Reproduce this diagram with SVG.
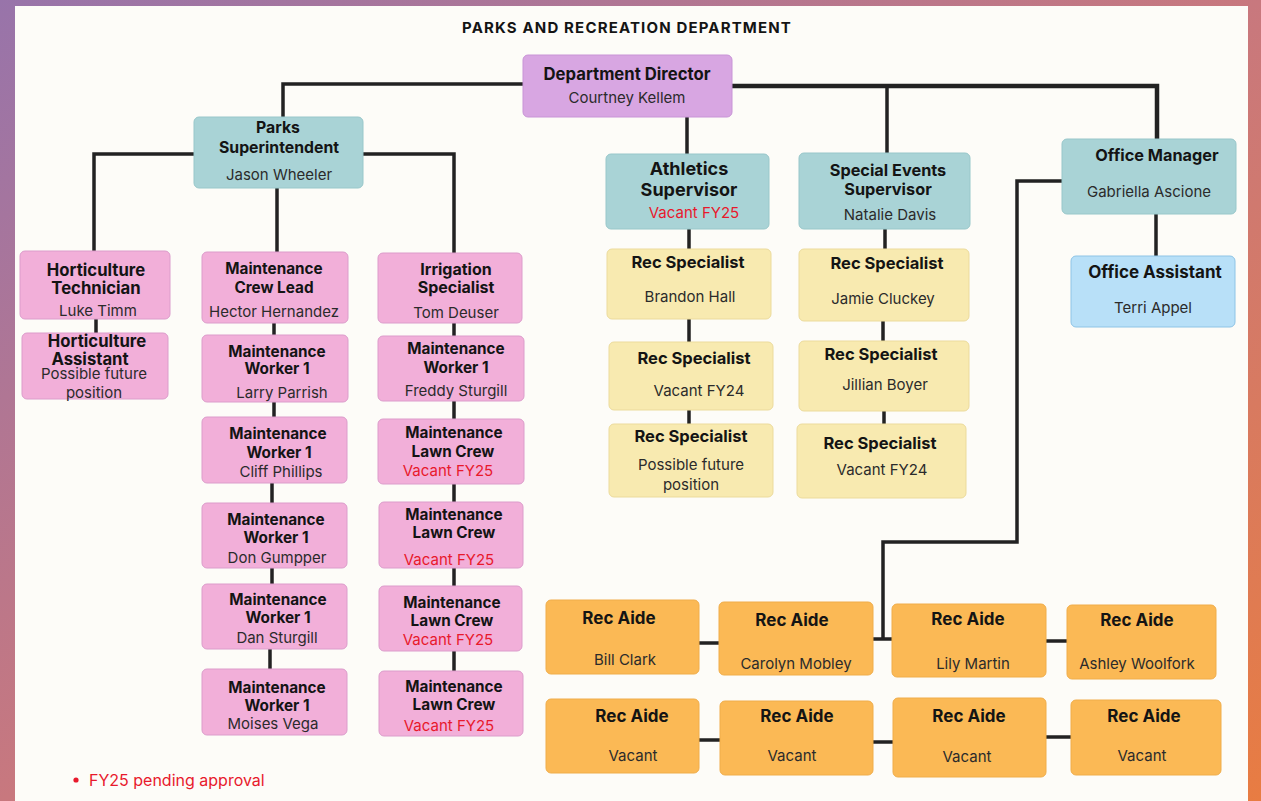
<svg xmlns="http://www.w3.org/2000/svg" width="1261" height="801" viewBox="0 0 1261 801">
<defs>
<linearGradient id="bg" x1="0" y1="0" x2="1" y2="1">
<stop offset="0" stop-color="#9874aa"/>
<stop offset="0.5" stop-color="#c8787e"/>
<stop offset="1" stop-color="#e87c42"/>
</linearGradient>
<style>
text{font-family:Inter,"Noto Sans","Liberation Sans",sans-serif;text-anchor:middle}
.h{font-size:15.3px;font-weight:700;fill:#141414}
.n{font-size:15px;font-weight:400;fill:#2b2b2b}
.r{font-size:15px;font-weight:400;fill:#e8192c}
.dir .h{font-size:16.7px}
.ps .h{font-size:15.8px}
.ath .h{font-size:18px}
.se .h{font-size:16.3px}
.om .h{font-size:16.3px}
.oa .h{font-size:17px}
.ho .h{font-size:16.7px}
.ir .h{font-size:16px}
.rs .h{font-size:16.5px}
.ra .h{font-size:17px}
.bdir{fill:#d8a6e2;stroke:#c894d6;stroke-width:1}
.sup{fill:#a9d3d6;stroke:#98c7ca;stroke-width:1}
.pk{fill:#f2afd9;stroke:#dc9ccb;stroke-width:1}
.yl{fill:#f8eab0;stroke:#ecdb9c;stroke-width:1}
.bl{fill:#b8e0f8;stroke:#8ec4e6;stroke-width:1}
.or{fill:#fbb955;stroke:#f0ad4a;stroke-width:1}
#connectors path{fill:none;stroke:#222;stroke-width:3.5;stroke-linejoin:miter}
</style>
</defs>
<rect x="0" y="0" width="1261" height="801" fill="url(#bg)"/>
<rect x="15" y="6" width="1233" height="800" fill="#fdfcf8"/>
<text x="627" y="33" style="font-size:15px;font-weight:700;fill:#141414;letter-spacing:1.15px">PARKS AND RECREATION DEPARTMENT</text>

<g id="connectors">
<path d="M523 84 H283 V117"/>
<path d="M732 86 H1157 V139" style="stroke-width:4.5"/>
<path d="M687 117 V154"/>
<path d="M887 86 V153"/>
<path d="M194 154 H94 V251"/>
<path d="M363 154 H454 V253"/>
<path d="M277 188 V252"/>
<path d="M96 319 V333"/>
<path d="M274 323 V335"/>
<path d="M274 402 V417"/>
<path d="M272 483 V503"/>
<path d="M272 568 V584"/>
<path d="M270 649 V669"/>
<path d="M454 323 V336"/>
<path d="M454 401 V419"/>
<path d="M454 484 V502"/>
<path d="M454 568 V586"/>
<path d="M454 651 V671"/>
<path d="M689 229 V249"/>
<path d="M689 319 V342"/>
<path d="M689 410 V424"/>
<path d="M885 229 V249"/>
<path d="M883 321 V341"/>
<path d="M884 411 V424"/>
<path d="M1156 214 V256"/>
<path d="M1062 181 H1017 V542 H883 V639"/>
<path d="M873 639 H892"/>
<path d="M699 643 H719"/>
<path d="M1046 641 H1067"/>
<path d="M699 740 H720"/>
<path d="M873 742 H893"/>
<path d="M1046 737 H1071"/>
</g>

<g id="director" class="dir">
<rect class="bdir" x="523" y="55" width="209" height="62" rx="5"/>
<text class="h" x="627" y="80">Department Director</text>
<text class="n" x="627" y="103">Courtney Kellem</text>
</g>

<g id="parks-superintendent" class="ps">
<rect class="sup" x="194" y="117" width="169" height="71" rx="5"/>
<text class="h" x="278" y="133">Parks</text>
<text class="h" x="279" y="153">Superintendent</text>
<text class="n" x="279" y="180">Jason Wheeler</text>
</g>

<g id="athletics-supervisor" class="ath">
<rect class="sup" x="606" y="154" width="163" height="75" rx="5"/>
<text class="h" x="689" y="175">Athletics</text>
<text class="h" x="689" y="196">Supervisor</text>
<text class="r" x="694" y="218">Vacant FY25</text>
</g>

<g id="special-events-supervisor" class="se">
<rect class="sup" x="799" y="153" width="171" height="76" rx="5"/>
<text class="h" x="888" y="176">Special Events</text>
<text class="h" x="888" y="195">Supervisor</text>
<text class="n" x="890" y="220">Natalie Davis</text>
</g>

<g id="office-manager" class="om">
<rect class="sup" x="1062" y="139" width="174" height="75" rx="5"/>
<text class="h" x="1157" y="161">Office Manager</text>
<text class="n" x="1149" y="197">Gabriella Ascione</text>
</g>

<g id="office-assistant" class="oa">
<rect class="bl" x="1071" y="256" width="164" height="71" rx="5"/>
<text class="h" x="1155" y="278">Office Assistant</text>
<text class="n" x="1153" y="313">Terri Appel</text>
</g>

<g id="horticulture-technician" class="ho">
<rect class="pk" x="20" y="251" width="150" height="68" rx="5"/>
<text class="h" x="96" y="276">Horticulture</text>
<text class="h" x="96" y="294">Technician</text>
<text class="n" x="98" y="316">Luke Timm</text>
</g>

<g id="horticulture-assistant" class="ho">
<rect class="pk" x="22" y="333" width="146" height="66" rx="5"/>
<text class="h" x="97" y="347">Horticulture</text>
<text class="h" x="90" y="365">Assistant</text>
<text class="n" x="94" y="379">Possible future</text>
<text class="n" x="94" y="398">position</text>
</g>

<g id="maintenance-crew-lead">
<rect class="pk" x="202" y="252" width="146" height="71" rx="5"/>
<text class="h" x="274" y="274">Maintenance</text>
<text class="h" x="274" y="293">Crew Lead</text>
<text class="n" x="274" y="317">Hector Hernandez</text>
</g>

<g id="worker-larry-parrish">
<rect class="pk" x="202" y="335" width="146" height="67" rx="5"/>
<text class="h" x="277" y="357">Maintenance</text>
<text class="h" x="277" y="374">Worker 1</text>
<text class="n" x="282" y="398">Larry Parrish</text>
</g>

<g id="worker-cliff-phillips">
<rect class="pk" x="202" y="417" width="145" height="66" rx="5"/>
<text class="h" x="278" y="439">Maintenance</text>
<text class="h" x="279" y="458">Worker 1</text>
<text class="n" x="281" y="477">Cliff Phillips</text>
</g>

<g id="worker-don-gumpper">
<rect class="pk" x="202" y="503" width="145" height="65" rx="5"/>
<text class="h" x="276" y="525">Maintenance</text>
<text class="h" x="276" y="543">Worker 1</text>
<text class="n" x="277" y="563">Don Gumpper</text>
</g>

<g id="worker-dan-sturgill">
<rect class="pk" x="202" y="584" width="145" height="65" rx="5"/>
<text class="h" x="278" y="605">Maintenance</text>
<text class="h" x="278" y="623">Worker 1</text>
<text class="n" x="277" y="643">Dan Sturgill</text>
</g>

<g id="worker-moises-vega">
<rect class="pk" x="202" y="669" width="145" height="66" rx="5"/>
<text class="h" x="277" y="693">Maintenance</text>
<text class="h" x="277" y="711">Worker 1</text>
<text class="n" x="273" y="729">Moises Vega</text>
</g>

<g id="irrigation-specialist" class="ir">
<rect class="pk" x="378" y="253" width="144" height="70" rx="5"/>
<text class="h" x="456" y="275">Irrigation</text>
<text class="h" x="456" y="293">Specialist</text>
<text class="n" x="456" y="318">Tom Deuser</text>
</g>

<g id="worker-freddy-sturgill">
<rect class="pk" x="378" y="336" width="146" height="65" rx="5"/>
<text class="h" x="456" y="354">Maintenance</text>
<text class="h" x="456" y="373">Worker 1</text>
<text class="n" x="456" y="396">Freddy Sturgill</text>
</g>

<g id="lawn-crew-1">
<rect class="pk" x="378" y="419" width="146" height="65" rx="5"/>
<text class="h" x="454" y="438">Maintenance</text>
<text class="h" x="453" y="457">Lawn Crew</text>
<text class="r" x="448" y="476">Vacant FY25</text>
</g>

<g id="lawn-crew-2">
<rect class="pk" x="379" y="502" width="144" height="66" rx="5"/>
<text class="h" x="454" y="520">Maintenance</text>
<text class="h" x="454" y="538">Lawn Crew</text>
<text class="r" x="449" y="565">Vacant FY25</text>
</g>

<g id="lawn-crew-3">
<rect class="pk" x="379" y="586" width="143" height="65" rx="5"/>
<text class="h" x="452" y="608">Maintenance</text>
<text class="h" x="452" y="626">Lawn Crew</text>
<text class="r" x="448" y="645">Vacant FY25</text>
</g>

<g id="lawn-crew-4">
<rect class="pk" x="379" y="671" width="144" height="65" rx="5"/>
<text class="h" x="454" y="692">Maintenance</text>
<text class="h" x="454" y="710">Lawn Crew</text>
<text class="r" x="449" y="731">Vacant FY25</text>
</g>

<g id="rec-specialist-brandon-hall" class="rs">
<rect class="yl" x="607" y="249" width="164" height="70" rx="5"/>
<text class="h" x="688" y="268">Rec Specialist</text>
<text class="n" x="690" y="302">Brandon Hall</text>
</g>

<g id="rec-specialist-vacant-fy24-a" class="rs">
<rect class="yl" x="609" y="342" width="164" height="68" rx="5"/>
<text class="h" x="694" y="364">Rec Specialist</text>
<text class="n" x="699" y="396">Vacant FY24</text>
</g>

<g id="rec-specialist-future" class="rs">
<rect class="yl" x="609" y="424" width="164" height="73" rx="5"/>
<text class="h" x="691" y="442">Rec Specialist</text>
<text class="n" x="691" y="470">Possible future</text>
<text class="n" x="691" y="490">position</text>
</g>

<g id="rec-specialist-jamie-cluckey" class="rs">
<rect class="yl" x="799" y="249" width="170" height="72" rx="5"/>
<text class="h" x="887" y="269">Rec Specialist</text>
<text class="n" x="883" y="304">Jamie Cluckey</text>
</g>

<g id="rec-specialist-jillian-boyer" class="rs">
<rect class="yl" x="799" y="341" width="170" height="70" rx="5"/>
<text class="h" x="881" y="360">Rec Specialist</text>
<text class="n" x="885" y="390">Jillian Boyer</text>
</g>

<g id="rec-specialist-vacant-fy24-b" class="rs">
<rect class="yl" x="797" y="424" width="169" height="74" rx="5"/>
<text class="h" x="880" y="449">Rec Specialist</text>
<text class="n" x="882" y="475">Vacant FY24</text>
</g>

<g id="rec-aide-bill-clark" class="ra">
<rect class="or" x="546" y="600" width="153" height="74" rx="5"/>
<text class="h" x="619" y="624">Rec Aide</text>
<text class="n" x="625" y="665">Bill Clark</text>
</g>

<g id="rec-aide-carolyn-mobley" class="ra">
<rect class="or" x="719" y="602" width="154" height="73" rx="5"/>
<text class="h" x="792" y="626">Rec Aide</text>
<text class="n" x="796" y="669">Carolyn Mobley</text>
</g>

<g id="rec-aide-lily-martin" class="ra">
<rect class="or" x="892" y="604" width="154" height="73" rx="5"/>
<text class="h" x="968" y="625">Rec Aide</text>
<text class="n" x="973" y="669">Lily Martin</text>
</g>

<g id="rec-aide-ashley-woolfork" class="ra">
<rect class="or" x="1067" y="605" width="149" height="74" rx="5"/>
<text class="h" x="1137" y="626">Rec Aide</text>
<text class="n" x="1137" y="669">Ashley Woolfork</text>
</g>

<g id="rec-aide-vacant-1" class="ra">
<rect class="or" x="546" y="699" width="153" height="74" rx="5"/>
<text class="h" x="632" y="722">Rec Aide</text>
<text class="n" x="633" y="761">Vacant</text>
</g>

<g id="rec-aide-vacant-2" class="ra">
<rect class="or" x="720" y="701" width="153" height="74" rx="5"/>
<text class="h" x="797" y="722">Rec Aide</text>
<text class="n" x="792" y="761">Vacant</text>
</g>

<g id="rec-aide-vacant-3" class="ra">
<rect class="or" x="893" y="698" width="153" height="79" rx="5"/>
<text class="h" x="969" y="722">Rec Aide</text>
<text class="n" x="967" y="762">Vacant</text>
</g>

<g id="rec-aide-vacant-4" class="ra">
<rect class="or" x="1071" y="700" width="150" height="75" rx="5"/>
<text class="h" x="1144" y="722">Rec Aide</text>
<text class="n" x="1142" y="761">Vacant</text>
</g>

<g id="footnote">
<circle cx="76" cy="780" r="2.6" fill="#e8192c"/>
<text x="89" y="786" style="font-size:16px;fill:#e8192c;text-anchor:start">FY25 pending approval</text>
</g>
</svg>
